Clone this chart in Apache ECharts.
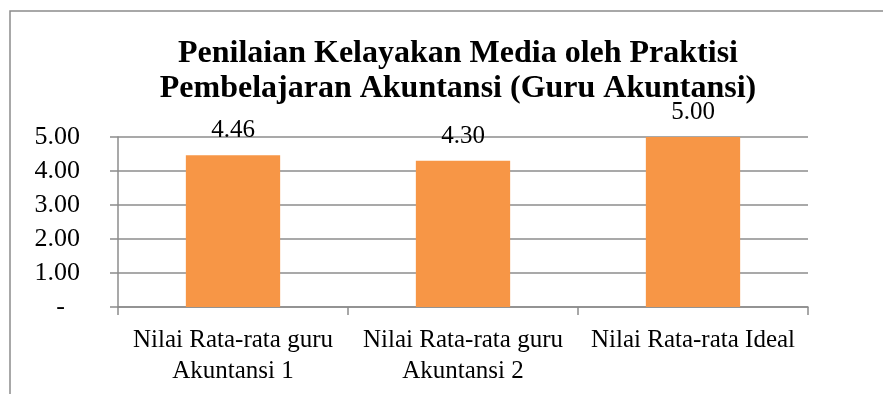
<!DOCTYPE html>
<html>
<head>
<meta charset="utf-8">
<script src="https://cdn.jsdelivr.net/npm/echarts@6/dist/echarts.min.js"></script>
<style>
  html, body { margin: 0; padding: 0; background: #fff; }
  #chart { width: 883px; height: 394px; }
</style>
</head>
<body>
<div id="chart"></div>
<script>
// Categories and average scores
const categories = [
  'Nilai Rata-rata guru\nAkuntansi 1',
  'Nilai Rata-rata guru\nAkuntansi 2',
  'Nilai Rata-rata Ideal'
];
const scores = [4.46, 4.30, 5.00];
const yTicks = [0, 1, 2, 3, 4, 5];

const serif = '"Liberation Serif", "Times New Roman", serif';
const chart = echarts.init(document.getElementById('chart'));

chart.setOption({
  backgroundColor: '#fff',
  animation: false,
  graphic: [{
    type: 'rect',
    shape: { x: 10, y: 11, width: 900, height: 420 },
    style: { fill: 'none', stroke: '#8c8c8c', lineWidth: 1.5 },
    silent: true
  }],
  title: {
    text: 'Penilaian Kelayakan Media oleh Praktisi\nPembelajaran Akuntansi (Guru Akuntansi)',
    left: 453,
    textAlign: 'center',
    top: 31,
    textStyle: {
      fontFamily: serif,
      fontWeight: 'bold',
      fontSize: 32,
      lineHeight: 35,
      color: '#000'
    }
  },
  grid: { left: 118, right: 75, top: 137, bottom: 87 },
  xAxis: {
    type: 'category',
    data: categories,
    axisLine: { lineStyle: { color: '#8c8c8c', width: 1.5 } },
    axisTick: { show: true, length: 8, lineStyle: { color: '#8c8c8c', width: 1.5 } },
    axisLabel: {
      fontFamily: serif,
      fontSize: 25,
      lineHeight: 31,
      color: '#000',
      margin: 18,
      interval: 0
    }
  },
  yAxis: {
    type: 'value',
    min: yTicks[0],
    max: yTicks[yTicks.length - 1],
    interval: 1,
    axisLine: { show: true, lineStyle: { color: '#8c8c8c', width: 1.5 } },
    axisTick: { show: true, length: 8, lineStyle: { color: '#8c8c8c', width: 1.5 } },
    splitLine: { lineStyle: { color: '#8c8c8c', width: 1.5 } },
    axisLabel: {
      fontFamily: serif,
      fontSize: 26,
      color: '#000',
      margin: 38,
      // zero is shown as a dash, set in from the right edge like an accounting format
      formatter: v => (v === 0 ? '{dash|-}' : v.toFixed(2)),
      rich: {
        dash: { fontFamily: serif, fontSize: 26, color: '#000', padding: [0, 15, 0, 0] }
      }
    }
  },
  series: [{
    type: 'bar',
    data: scores,
    barWidth: '41%',
    itemStyle: { color: '#F79646' },
    label: {
      show: true,
      position: 'top',
      distance: 12,
      fontFamily: serif,
      fontSize: 25,
      color: '#000',
      formatter: p => p.value.toFixed(2)
    }
  }]
});
</script>
</body>
</html>
